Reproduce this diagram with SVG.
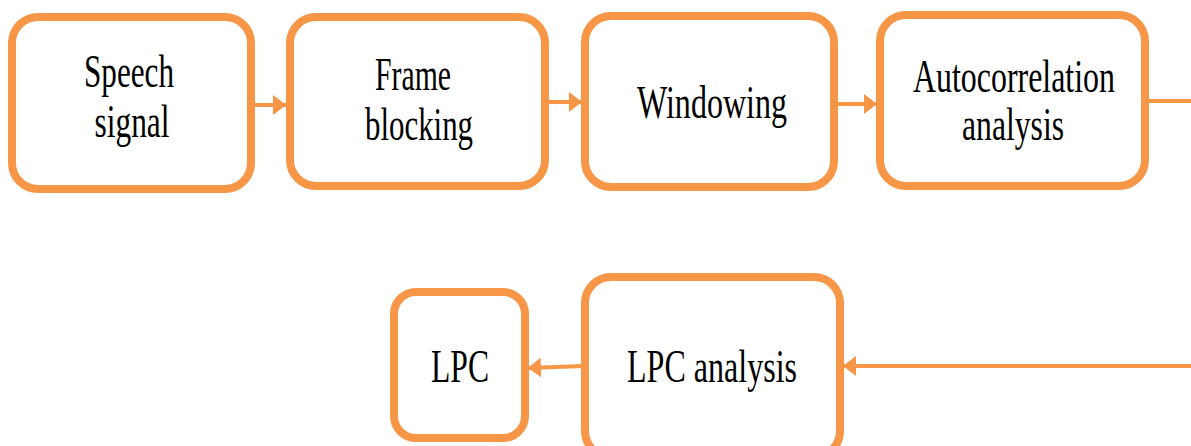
<svg xmlns="http://www.w3.org/2000/svg" width="1191" height="446" viewBox="0 0 1191 446">
<defs>
<style>
.box{fill:#fff;stroke:#F79646;stroke-width:8}
.t{font-family:"Liberation Serif","Times New Roman",serif;font-size:46px;fill:#000}
.c{stroke:#F79646;stroke-width:4;fill:none}
</style>
<marker id="ah" markerUnits="userSpaceOnUse" markerWidth="14" markerHeight="22" refX="13" refY="11" orient="auto">
<path d="M0,1 L13,11 L0,21 Z" fill="#F79646"/>
</marker>
</defs>
<rect width="1191" height="446" fill="#fff"/>
<g id="connectors">
<line class="c" x1="253" y1="105" x2="286" y2="105" marker-end="url(#ah)"/>
<line class="c" x1="547" y1="102" x2="582" y2="102" marker-end="url(#ah)"/>
<line class="c" x1="836" y1="104" x2="877" y2="104" marker-end="url(#ah)"/>
<line class="c" x1="1147" y1="101" x2="1191" y2="101"/>
<line class="c" x1="1191" y1="366" x2="843" y2="366" marker-end="url(#ah)"/>
<line class="c" x1="583" y1="366" x2="528" y2="368" marker-end="url(#ah)"/>
</g>
<g id="speech-signal">
<rect class="box" x="12" y="17" width="239" height="172" rx="26"/>
<text class="t" x="129" y="87" text-anchor="middle" textLength="90" lengthAdjust="spacingAndGlyphs">Speech</text>
<text class="t" x="132" y="137" text-anchor="middle" textLength="75" lengthAdjust="spacingAndGlyphs">signal</text>
</g>
<g id="frame-blocking">
<rect class="box" x="290" y="17" width="255" height="169" rx="26"/>
<text class="t" x="413" y="90" text-anchor="middle" textLength="76" lengthAdjust="spacingAndGlyphs">Frame</text>
<text class="t" x="419" y="140" text-anchor="middle" textLength="108" lengthAdjust="spacingAndGlyphs">blocking</text>
</g>
<g id="windowing">
<rect class="box" x="585" y="16" width="249" height="171" rx="26"/>
<text class="t" x="712" y="118" text-anchor="middle" textLength="150" lengthAdjust="spacingAndGlyphs">Windowing</text>
</g>
<g id="autocorrelation">
<rect class="box" x="880" y="15" width="265" height="171" rx="26"/>
<text class="t" x="1014" y="92" text-anchor="middle" textLength="202" lengthAdjust="spacingAndGlyphs">Autocorrelation</text>
<text class="t" x="1013" y="140" text-anchor="middle" textLength="102" lengthAdjust="spacingAndGlyphs">analysis</text>
</g>
<g id="lpc-analysis">
<rect class="box" x="585" y="277" width="255" height="180" rx="26"/>
<text class="t" x="712" y="382" text-anchor="middle" textLength="170" lengthAdjust="spacingAndGlyphs">LPC analysis</text>
</g>
<g id="lpc">
<rect class="box" x="394" y="292" width="131" height="146" rx="22"/>
<text class="t" x="460" y="382" text-anchor="middle" textLength="58" lengthAdjust="spacingAndGlyphs">LPC</text>
</g>
</svg>
